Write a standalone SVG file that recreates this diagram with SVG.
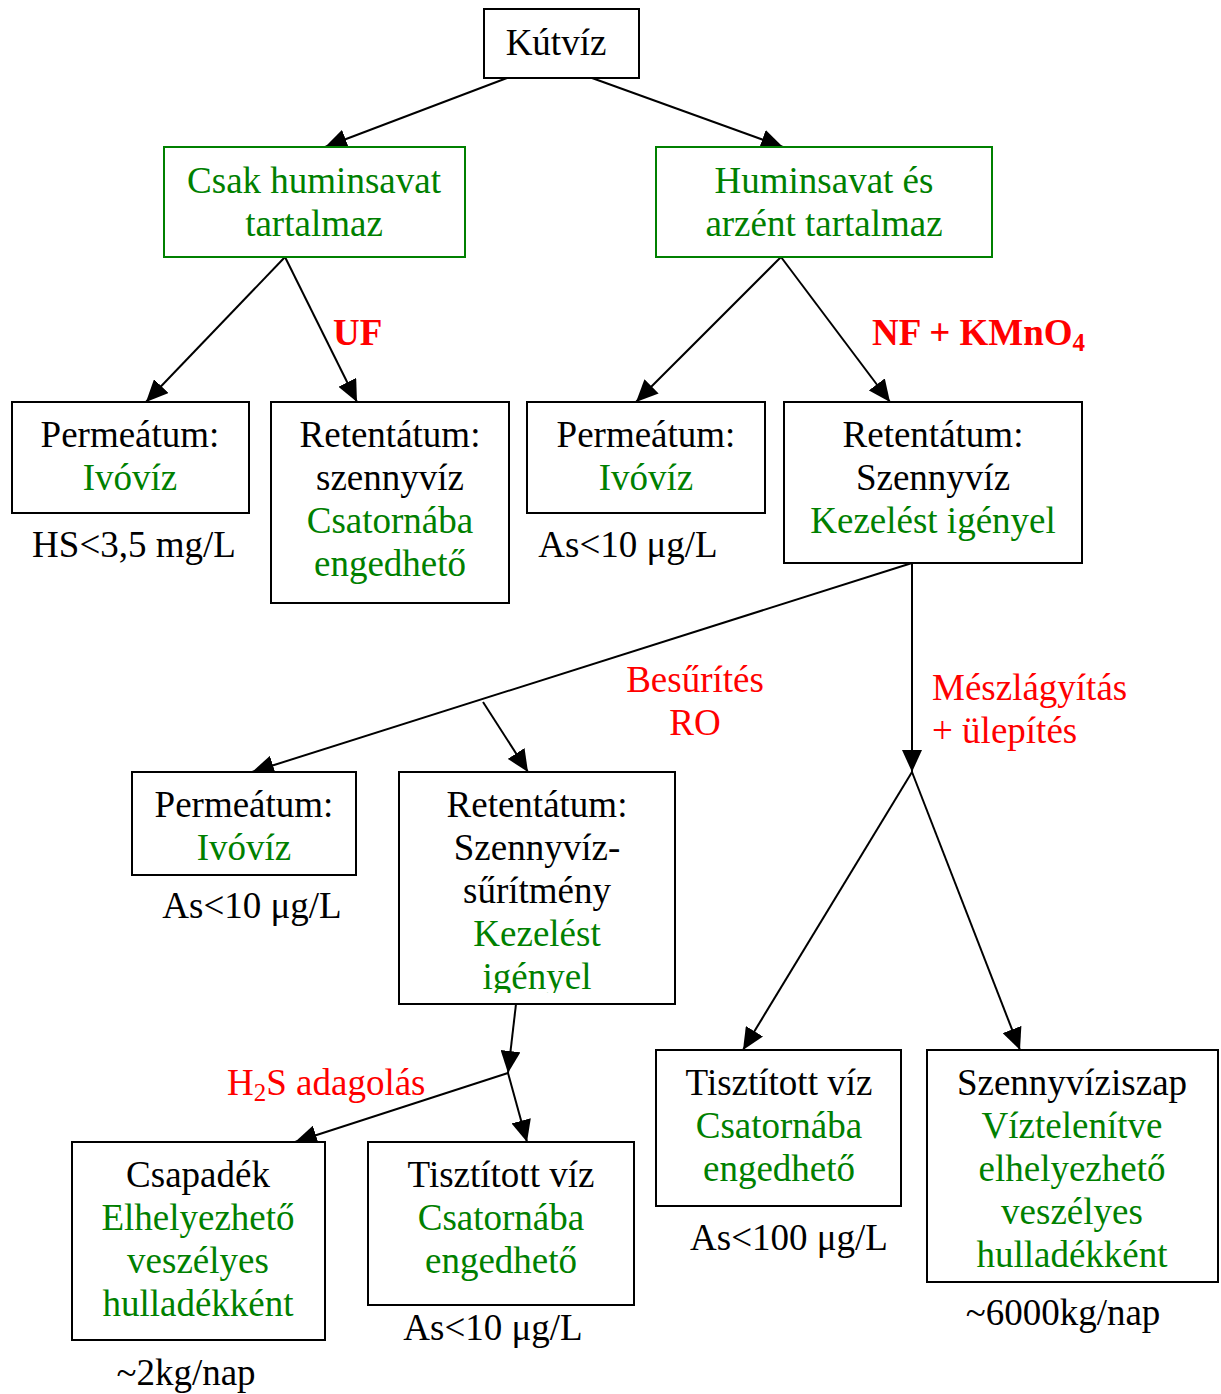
<svg xmlns="http://www.w3.org/2000/svg" width="1221" height="1394" viewBox="0 0 1221 1394">
<style>
text{font-family:"Liberation Serif","Times New Roman",serif;font-size:37px;text-anchor:middle;fill:#000}
.g{fill:#008000}
.r{fill:#ff0000}
.b{font-weight:bold}
.st{text-anchor:start}
.box{fill:#fff;stroke:#000;stroke-width:2}
.gbox{fill:#fff;stroke:#008000;stroke-width:2}
.edge{fill:none;stroke:#000;stroke-width:2}
.arr{marker-end:url(#ah)}
</style>
<defs>
<marker id="ah" markerUnits="userSpaceOnUse" markerWidth="22" markerHeight="20" refX="22" refY="10" orient="auto">
<path d="M0,0 L22,10 L0,20 z" fill="#000"/>
</marker>
<clipPath id="c5"><rect x="399" y="772" width="276" height="221"/></clipPath>
</defs>

<g id="connectors">
<line class="edge arr" x1="507" y1="78" x2="325" y2="147"/>
<line class="edge arr" x1="592" y1="78" x2="783" y2="147"/>
<line class="edge arr" x1="285" y1="257" x2="146" y2="402"/>
<line class="edge arr" x1="285" y1="257" x2="357" y2="402"/>
<line class="edge arr" x1="781" y1="257" x2="636" y2="402"/>
<line class="edge arr" x1="781" y1="257" x2="890" y2="402"/>
<line class="edge arr" x1="912" y1="563" x2="252" y2="772"/>
<line class="edge arr" x1="483" y1="702" x2="528" y2="772"/>
<line class="edge arr" x1="912" y1="563" x2="912" y2="772"/>
<line class="edge arr" x1="912" y1="772" x2="743" y2="1050"/>
<line class="edge arr" x1="912" y1="772" x2="1020" y2="1050"/>
<line class="edge arr" x1="516" y1="1004" x2="508" y2="1073"/>
<line class="edge arr" x1="508" y1="1073" x2="295" y2="1142"/>
<line class="edge arr" x1="508" y1="1073" x2="527" y2="1142"/>
<text class="r b st" x="333" y="345">UF</text>
<text class="r b st" x="872" y="345">NF + KMnO<tspan font-size="25" dy="6">4</tspan></text>
<text class="r" x="695" y="692">Besűrítés</text>
<text class="r" x="695" y="735">RO</text>
<text class="r st" x="932" y="700">Mészlágyítás</text>
<text class="r st" x="932" y="743">+ ülepítés</text>
<text class="r st" x="227" y="1095">H<tspan font-size="25" dy="6">2</tspan><tspan dy="-6">S adagolás</tspan></text>
</g>

<g id="n-kutviz">
<rect class="box" x="484" y="9" width="155" height="69"/>
<text x="556" y="55">Kútvíz</text>
</g>

<g id="n-csak">
<rect class="gbox" x="164" y="147" width="301" height="110"/>
<text class="g" x="314" y="193">Csak huminsavat</text>
<text class="g" x="314" y="236">tartalmaz</text>
</g>

<g id="n-humars">
<rect class="gbox" x="656" y="147" width="336" height="110"/>
<text class="g" x="824" y="193">Huminsavat és</text>
<text class="g" x="824" y="236">arzént tartalmaz</text>
</g>

<g id="n-perm1">
<rect class="box" x="12" y="402" width="237" height="111"/>
<text x="130" y="447">Permeátum:</text>
<text class="g" x="130" y="490">Ivóvíz</text>
<text x="134" y="557">HS&lt;3,5 mg/L</text>
</g>

<g id="n-ret1">
<rect class="box" x="271" y="402" width="238" height="201"/>
<text x="390" y="447">Retentátum:</text>
<text x="390" y="490">szennyvíz</text>
<text class="g" x="390" y="533">Csatornába</text>
<text class="g" x="390" y="576">engedhető</text>
</g>

<g id="n-perm2">
<rect class="box" x="527" y="402" width="238" height="111"/>
<text x="646" y="447">Permeátum:</text>
<text class="g" x="646" y="490">Ivóvíz</text>
<text x="628" y="557">As&lt;10 μg/L</text>
</g>

<g id="n-ret2">
<rect class="box" x="784" y="402" width="298" height="161"/>
<text x="933" y="447">Retentátum:</text>
<text x="933" y="490">Szennyvíz</text>
<text class="g" x="933" y="533">Kezelést igényel</text>
</g>

<g id="n-perm3">
<rect class="box" x="132" y="772" width="224" height="103"/>
<text x="244" y="817">Permeátum:</text>
<text class="g" x="244" y="860">Ivóvíz</text>
<text x="252" y="918">As&lt;10 μg/L</text>
</g>

<g id="n-ret3">
<rect class="box" x="399" y="772" width="276" height="232"/>
<g clip-path="url(#c5)">
<text x="537" y="817">Retentátum:</text>
<text x="537" y="860">Szennyvíz-</text>
<text x="537" y="903">sűrítmény</text>
<text class="g" x="537" y="946">Kezelést</text>
<text class="g" x="537" y="989">igényel</text>
</g>
</g>

<g id="n-csapadek">
<rect class="box" x="72" y="1142" width="253" height="198"/>
<text x="198" y="1187">Csapadék</text>
<text class="g" x="198" y="1230">Elhelyezhető</text>
<text class="g" x="198" y="1273">veszélyes</text>
<text class="g" x="198" y="1316">hulladékként</text>
<text x="186" y="1385">~2kg/nap</text>
</g>

<g id="n-tiszt1">
<rect class="box" x="368" y="1142" width="266" height="163"/>
<text x="501" y="1187">Tisztított víz</text>
<text class="g" x="501" y="1230">Csatornába</text>
<text class="g" x="501" y="1273">engedhető</text>
<text x="493" y="1340">As&lt;10 μg/L</text>
</g>

<g id="n-tiszt2">
<rect class="box" x="656" y="1050" width="245" height="156"/>
<text x="779" y="1095">Tisztított víz</text>
<text class="g" x="779" y="1138">Csatornába</text>
<text class="g" x="779" y="1181">engedhető</text>
<text x="789" y="1250">As&lt;100 μg/L</text>
</g>

<g id="n-iszap">
<rect class="box" x="927" y="1050" width="291" height="232"/>
<text x="1072" y="1095">Szennyvíziszap</text>
<text class="g" x="1072" y="1138">Víztelenítve</text>
<text class="g" x="1072" y="1181">elhelyezhető</text>
<text class="g" x="1072" y="1224">veszélyes</text>
<text class="g" x="1072" y="1267">hulladékként</text>
<text x="1063" y="1325">~6000kg/nap</text>
</g>
</svg>
